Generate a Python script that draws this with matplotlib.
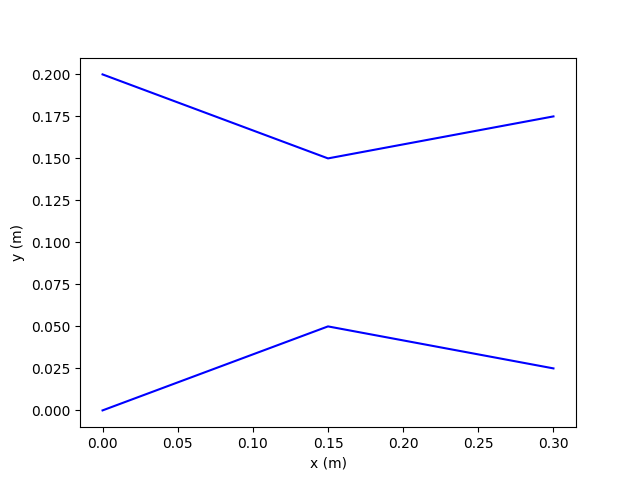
import numpy as np
import matplotlib
matplotlib.use("Agg")
import matplotlib.pyplot as plt

x = [0.0, 0.15, 0.3]
y_top = [0.2, 0.15, 0.175]
y_bottom = [0.0, 0.05, 0.025]

fig, ax = plt.subplots(figsize=(6.4, 4.8), dpi=100)
ax.plot(x, y_top, color='blue')
ax.plot(x, y_bottom, color='blue')
ax.set_xlabel('x (m)')
ax.set_ylabel('y (m)')
fig.savefig('out.png')
